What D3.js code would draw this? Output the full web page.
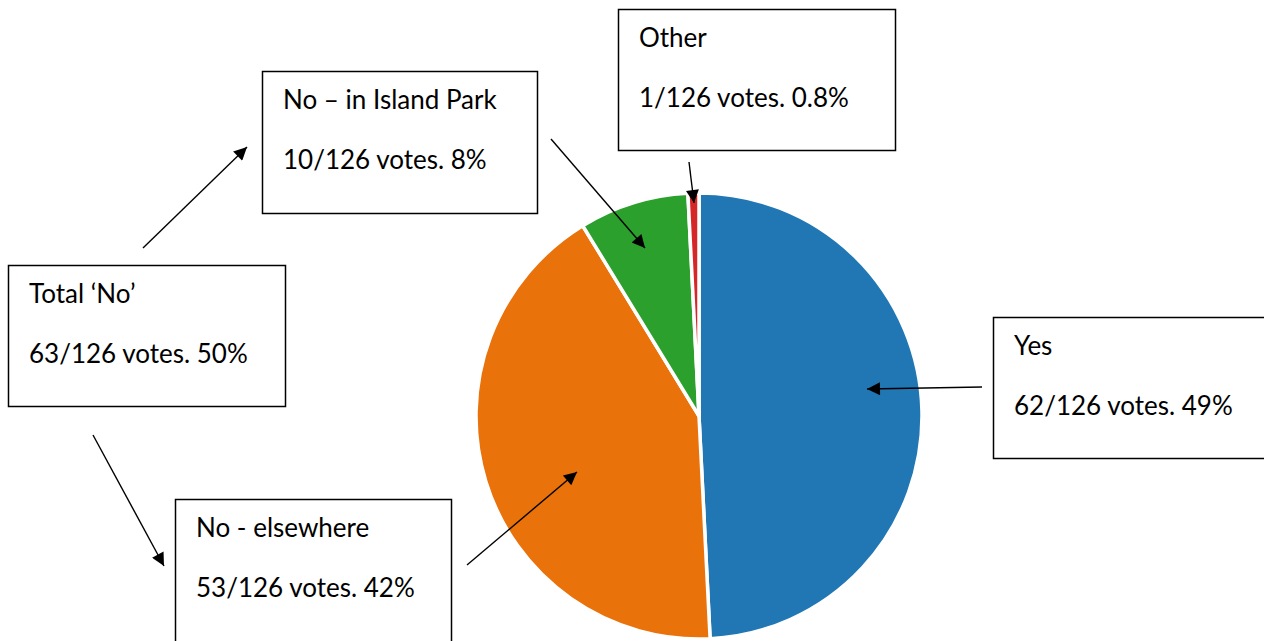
<!DOCTYPE html>
<html>
<head>
<meta charset="utf-8">
<script src="https://cdn.jsdelivr.net/npm/d3@7/dist/d3.min.js"></script>
<style>
  html, body { margin: 0; padding: 0; background: #fff; }
  svg { display: block; }
  text { font-family: "Lato", "Open Sans", sans-serif; fill: #000; }
</style>
</head>
<body>
<svg id="chart" width="1264" height="641"></svg>
<script>
// ---- data ----
const categories = ["Yes", "No - elsewhere", "No \u2013 in Island Park", "Other"];
const votes = [62, 53, 10, 1];
const totalVotes = 126;
const colors = ["#2077b4", "#e9720a", "#2ca02c", "#d62728"];

// annotation boxes: title, detail line
const boxTitles = ["Yes", "No - elsewhere", "No \u2013 in Island Park", "Other", "Total \u2018No\u2019"];
const boxLines = ["62/126 votes. 49%", "53/126 votes. 42%", "10/126 votes. 8%", "1/126 votes. 0.8%", "63/126 votes. 50%"];

// ---- layout ----
const W = 1264, H = 641;
const cx = 699, cy = 416, R = 223;
const boxes = [
  { x: 993, y: 317, w: 272, h: 141 },
  { x: 175, y: 499, w: 276, h: 146 },
  { x: 262, y: 71,  w: 275, h: 142 },
  { x: 618, y: 9,   w: 277, h: 141 },
  { x: 8,   y: 265, w: 277, h: 141 }
];
const arrows = [
  { x1: 982, y1: 387, x2: 867, y2: 389 },
  { x1: 467, y1: 565, x2: 577, y2: 472 },
  { x1: 551, y1: 139, x2: 645, y2: 248 },
  { x1: 689, y1: 162, x2: 694, y2: 203 },
  { x1: 143, y1: 248, x2: 247, y2: 147 },
  { x1: 93,  y1: 435, x2: 164, y2: 566 }
];

const svg = d3.select("#chart");

const defs = svg.append("defs");
defs.append("marker")
  .attr("id", "arrowhead")
  .attr("viewBox", "0 0 10 10")
  .attr("refX", 10).attr("refY", 5)
  .attr("markerWidth", 16).attr("markerHeight", 13)
  .attr("markerUnits", "userSpaceOnUse")
  .attr("orient", "auto")
  .append("path")
  .attr("d", "M0,0 L10,5 L0,10 Z")
  .attr("fill", "#000");

// ---- pie ----
const pie = d3.pie().sort(null).value(d => d)(votes);
const arc = d3.arc().innerRadius(0).outerRadius(R);
const color = d3.scaleOrdinal().domain(categories).range(colors);

svg.append("g")
  .attr("transform", `translate(${cx},${cy})`)
  .selectAll("path")
  .data(pie)
  .join("path")
  .attr("d", arc)
  .attr("fill", (d, i) => color(categories[i]))
  .attr("stroke", "#fff")
  .attr("stroke-width", 3.5)
  .attr("stroke-linejoin", "round");

// ---- boxes ----
const bg = svg.append("g");
boxes.forEach((b, i) => {
  const g = bg.append("g").attr("transform", `translate(${b.x},${b.y})`);
  g.append("rect")
    .attr("x", 0.5).attr("y", 0.5)
    .attr("width", b.w).attr("height", b.h)
    .attr("fill", "#fff")
    .attr("stroke", "#000")
    .attr("stroke-width", 1.5);
  g.append("text")
    .attr("x", 21).attr("y", 38)
    .attr("font-size", 26)
    .text(boxTitles[i]);
  g.append("text")
    .attr("x", 21).attr("y", 98)
    .attr("font-size", 26)
    .text(boxLines[i]);
});

// ---- arrows ----
svg.append("g")
  .selectAll("line")
  .data(arrows)
  .join("line")
  .attr("x1", d => d.x1).attr("y1", d => d.y1)
  .attr("x2", d => d.x2).attr("y2", d => d.y2)
  .attr("stroke", "#000")
  .attr("stroke-width", 1.4)
  .attr("marker-end", "url(#arrowhead)");
</script>
</body>
</html>
